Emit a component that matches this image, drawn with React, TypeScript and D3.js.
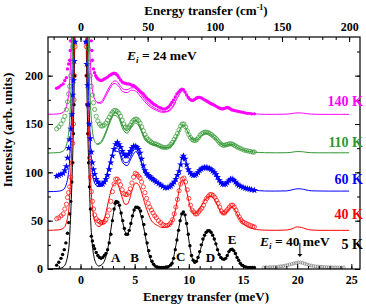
import React, { useEffect, useRef } from "react";
import * as d3 from "d3";

type P = [number, number];

const W = 366;
const H = 307;
const MARGIN = { top: 37, right: 6, bottom: 38, left: 48 };
const FONT = "Liberation Serif, Times New Roman, DejaVu Serif, serif";
const MEV_TO_CM = 8.0655;

const xTicksMeV = [0, 5, 10, 15, 20, 25];
const xTicksCm = [0, 50, 100, 150, 200];
const yTicks = [0, 50, 100, 150, 200];

// 5 K, Ei = 24 meV (black)
const t5Pts: P[] = [
  [-2.2, 4], [-2.0, 7], [-1.8, 11], [-1.65, 15], [-1.5, 20], [-1.35, 27], [-1.2, 37], [-1.1, 48],
  [-1.0, 57], [-0.9, 70], [-0.8, 90], [-0.72, 110], [-0.65, 140], [-0.6, 170], [-0.55, 200], [-0.5, 235],
  [0.5, 235], [0.55, 200], [0.6, 170], [0.68, 140], [0.75, 110], [0.83, 85], [0.92, 62], [1.0, 34],
  [1.1, 29], [1.2, 24], [1.3, 21], [1.45, 17], [1.6, 14], [1.75, 12], [1.9, 11], [2.05, 12], [2.2, 14],
  [2.35, 16], [2.5, 20], [2.65, 27], [2.8, 36], [2.95, 50], [3.1, 62], [3.2, 68], [3.3, 70], [3.45, 69],
  [3.6, 66], [3.75, 58], [3.9, 50], [4.05, 42], [4.2, 36], [4.35, 36], [4.5, 40], [4.65, 47], [4.8, 55],
  [4.95, 61], [5.1, 64], [5.25, 64], [5.4, 63], [5.55, 60], [5.7, 54], [5.85, 46], [6.0, 36], [6.15, 27],
  [6.3, 19], [6.45, 13], [6.6, 8], [6.75, 5], [6.9, 3], [7.1, 2], [7.3, 1.5], [7.5, 1.5], [7.7, 1.5],
  [7.9, 2], [8.1, 2.5], [8.3, 4], [8.45, 6], [8.6, 11], [8.75, 20], [8.9, 30], [9.05, 40], [9.2, 50],
  [9.35, 57], [9.5, 59], [9.65, 56], [9.8, 47], [9.95, 36], [10.1, 24], [10.25, 14], [10.4, 9], [10.55, 7],
  [10.7, 8], [10.85, 12], [11.0, 18], [11.15, 25], [11.3, 31], [11.45, 35], [11.6, 38], [11.75, 39.5],
  [11.9, 39.5], [12.05, 38], [12.2, 35], [12.35, 31], [12.5, 26], [12.65, 20], [12.8, 15], [12.95, 12],
  [13.1, 10.5], [13.25, 10], [13.4, 11], [13.55, 14], [13.7, 18], [13.85, 20], [14.0, 20.5], [14.15, 19],
  [14.3, 16], [14.45, 12], [14.6, 9], [14.75, 6], [14.9, 4], [15.05, 3], [15.25, 2], [15.45, 1.5],
  [15.65, 1.5], [15.85, 1.5], [16.05, 1.5],
];
const t5Fit: P[] = [
  [-3, 0], [-2.0, 0.5], [-1.6, 2], [-1.3, 8], [-1.15, 16], [-1.05, 25], [-0.95, 45], [-0.85, 72],
  [-0.75, 105], [-0.68, 135], [-0.6, 180], [-0.5, 260], [0, 900], [0.5, 260], [0.6, 180], [0.7, 130],
  [0.8, 95], [0.9, 60], [1.0, 38], [1.1, 24], [1.2, 15], [1.35, 8], [1.5, 4.5], [1.7, 3], [1.9, 4],
  [2.1, 6], [2.3, 11], [2.5, 20], [2.7, 33], [2.9, 48], [3.1, 61], [3.3, 68], [3.5, 67], [3.7, 59],
  [3.9, 48], [4.1, 39], [4.3, 36], [4.5, 40], [4.7, 50], [4.9, 59], [5.1, 63], [5.3, 63], [5.5, 58],
  [5.7, 50], [5.9, 39], [6.1, 27], [6.3, 16], [6.5, 9], [6.7, 4], [6.9, 2], [7.3, 1], [7.8, 1], [8.2, 3],
  [8.5, 8], [8.8, 24], [9.1, 44], [9.3, 55], [9.45, 58], [9.6, 56], [9.8, 46], [10.0, 30], [10.2, 16],
  [10.4, 9], [10.6, 7], [10.8, 10], [11.0, 17], [11.3, 29], [11.6, 37], [11.9, 39.5], [12.2, 35],
  [12.5, 26], [12.8, 15], [13.1, 10], [13.3, 10], [13.5, 13], [13.8, 19], [14.0, 20], [14.2, 18],
  [14.5, 11], [14.8, 5], [15.1, 2.5], [15.5, 1.5], [16.0, 1],
];
// 5 K, Ei = 40 meV (grey)
const t5Ei40Pts: P[] = [
  [16.9, 1.5], [17.1, 1.8], [17.3, 1.5], [17.5, 2], [17.7, 1.8], [17.9, 2.2], [18.1, 2], [18.3, 2.5],
  [18.5, 2.8], [18.7, 3], [18.9, 3.5], [19.1, 4], [19.3, 4.5], [19.5, 5.2], [19.7, 5.8], [19.9, 6.3],
  [20.1, 6.8], [20.3, 6.8], [20.5, 6.3], [20.7, 5.5], [20.9, 4.8], [21.1, 4], [21.3, 3.5], [21.5, 3],
  [21.7, 2.7], [21.9, 2.5], [22.1, 2.3], [22.3, 2.2], [22.5, 2], [22.7, 2], [22.9, 1.8], [23.1, 1.8],
  [23.3, 1.6], [23.5, 1.6], [23.7, 1.5], [23.9, 1.5], [24.1, 1.4], [24.3, 1.4],
];

// 40 K (red, offset 40)
const t40Pts: P[] = [
  [-2.2, 52], [-2.0, 53], [-1.8, 55], [-1.6, 57], [-1.45, 62], [-1.3, 67], [-1.2, 74], [-1.1, 79],
  [-1.0, 85], [-0.9, 95], [-0.8, 110], [-0.72, 130], [-0.65, 150], [-0.6, 175], [-0.55, 200], [-0.5, 230],
  [0.55, 230], [0.6, 200], [0.68, 170], [0.75, 140], [0.83, 115], [0.92, 95], [1.0, 80], [1.1, 70],
  [1.2, 62], [1.3, 56], [1.45, 52], [1.6, 50], [1.75, 49], [1.9, 48], [2.05, 48], [2.2, 49], [2.35, 51],
  [2.5, 55], [2.65, 61], [2.8, 70], [2.95, 80], [3.1, 88], [3.25, 93], [3.4, 93], [3.55, 91], [3.7, 87],
  [3.85, 82], [4.0, 78], [4.15, 77], [4.3, 77], [4.45, 79], [4.6, 83], [4.75, 89], [4.9, 95], [5.05, 99],
  [5.2, 98], [5.35, 96], [5.5, 94], [5.65, 90], [5.8, 85], [5.95, 79], [6.1, 73], [6.25, 68], [6.4, 64],
  [6.55, 61], [6.7, 58], [6.85, 55], [7.0, 53], [7.2, 50], [7.4, 48], [7.6, 46], [7.8, 45], [8.0, 45],
  [8.2, 46], [8.35, 48], [8.5, 51], [8.65, 57], [8.8, 64], [8.95, 72], [9.1, 81], [9.25, 88], [9.4, 93],
  [9.55, 94], [9.7, 90], [9.85, 82], [10.0, 73], [10.15, 66], [10.3, 61], [10.45, 59], [10.6, 57],
  [10.75, 57], [10.9, 59], [11.05, 61], [11.2, 63], [11.35, 66], [11.5, 70], [11.65, 73], [11.8, 75],
  [11.95, 77], [12.1, 77], [12.25, 76], [12.4, 74], [12.55, 71], [12.7, 68], [12.85, 64], [13.0, 60],
  [13.15, 58], [13.3, 58], [13.45, 60], [13.6, 62], [13.75, 64], [13.9, 66], [14.05, 66], [14.2, 64],
  [14.35, 61], [14.5, 57], [14.65, 54], [14.8, 51], [14.95, 49], [15.1, 48], [15.3, 47], [15.5, 46],
  [15.7, 45], [15.9, 44], [16.05, 43.5],
];
const t40Fit: P[] = [
  [-3, 40], [-2.0, 40.5], [-1.6, 42], [-1.3, 48], [-1.15, 56], [-1.05, 65], [-0.95, 85], [-0.85, 112],
  [-0.75, 145], [-0.68, 175], [-0.6, 220], [-0.5, 300], [0, 900], [0.5, 300], [0.6, 220], [0.7, 165],
  [0.8, 130], [0.9, 100], [1.0, 78], [1.1, 64], [1.2, 55], [1.35, 48], [1.5, 45], [1.7, 44], [1.9, 45],
  [2.1, 49], [2.3, 56], [2.5, 66], [2.7, 76], [2.9, 84], [3.1, 88], [3.3, 89], [3.5, 86], [3.7, 79],
  [3.9, 72], [4.1, 67], [4.3, 67], [4.5, 71], [4.7, 79], [4.9, 86], [5.1, 89], [5.3, 88], [5.5, 84],
  [5.7, 77], [5.9, 69], [6.1, 62], [6.3, 56], [6.5, 51], [6.8, 47], [7.1, 45], [7.5, 43], [7.8, 43],
  [8.1, 44], [8.4, 48], [8.7, 58], [9.0, 75], [9.2, 87], [9.4, 92], [9.6, 89], [9.8, 80], [10.0, 70],
  [10.2, 62], [10.4, 58], [10.6, 57], [10.8, 59], [11.1, 64], [11.4, 70], [11.7, 74], [12.0, 75],
  [12.3, 73], [12.6, 67], [12.9, 60], [13.1, 57], [13.3, 57], [13.5, 59], [13.8, 63], [14.0, 64],
  [14.2, 62], [14.5, 56], [14.8, 50], [15.1, 46], [15.5, 43], [16.0, 41.5], [16.5, 40.5], [17, 40.2],
  [18, 40], [19, 40.3], [19.5, 41.5], [20.0, 43.5], [20.4, 43], [20.8, 41.5], [21.3, 40.3], [22, 40],
  [23, 40], [24, 40], [24.8, 40],
];

// 60 K (blue, offset 80)
const t60Pts: P[] = [
  [-2.2, 96], [-2.0, 97], [-1.8, 98], [-1.6, 99], [-1.45, 102], [-1.3, 106], [-1.2, 115], [-1.1, 125],
  [-1.0, 134], [-0.9, 145], [-0.8, 160], [-0.72, 180], [-0.65, 195], [-0.58, 215], [-0.5, 235],
  [0.5, 235], [0.58, 212], [0.65, 190], [0.72, 170], [0.8, 150], [0.9, 135], [1.0, 121], [1.1, 110],
  [1.2, 103], [1.3, 98], [1.45, 93], [1.6, 90], [1.75, 88], [1.9, 87.5], [2.05, 88], [2.2, 90], [2.35, 93],
  [2.5, 97], [2.65, 103], [2.8, 110], [2.95, 117], [3.1, 124], [3.25, 129], [3.4, 131], [3.55, 129],
  [3.7, 126], [3.85, 122], [4.0, 119], [4.15, 117], [4.3, 117], [4.45, 119], [4.6, 122], [4.75, 125],
  [4.9, 127], [5.05, 127], [5.2, 126], [5.35, 124], [5.5, 120], [5.65, 114], [5.8, 107], [5.95, 102],
  [6.1, 99], [6.25, 97], [6.4, 95.5], [6.55, 94], [6.7, 93], [6.85, 91.5], [7.0, 90], [7.2, 88.5],
  [7.4, 87], [7.6, 85.5], [7.8, 84], [8.0, 84], [8.2, 85], [8.35, 86], [8.5, 88], [8.65, 90], [8.8, 93],
  [8.95, 97], [9.1, 101], [9.25, 108], [9.4, 115], [9.5, 117], [9.65, 114], [9.8, 108], [9.95, 103],
  [10.1, 100], [10.25, 98], [10.4, 97], [10.55, 97], [10.7, 98], [10.85, 100], [11.0, 102], [11.15, 103.5],
  [11.3, 104.5], [11.45, 105], [11.6, 105], [11.75, 104.5], [11.9, 104], [12.05, 103], [12.2, 101.5],
  [12.35, 100], [12.5, 98], [12.65, 95], [12.8, 92], [12.95, 89.5], [13.1, 88], [13.25, 87.5], [13.4, 88],
  [13.55, 89.5], [13.7, 91.5], [13.85, 93], [14.0, 93], [14.15, 92], [14.3, 90], [14.45, 88], [14.6, 86.5],
  [14.8, 85.5], [15.0, 84.5], [15.2, 83.5], [15.4, 83], [15.6, 82.5], [15.8, 82], [16.05, 81.5],
];
const t60Fit: P[] = [
  [-3, 80], [-2.0, 80.5], [-1.6, 82], [-1.3, 88], [-1.15, 96], [-1.05, 105], [-0.95, 125], [-0.85, 152],
  [-0.75, 185], [-0.68, 215], [-0.6, 260], [-0.5, 340], [0, 900], [0.5, 340], [0.6, 260], [0.7, 205],
  [0.8, 165], [0.9, 135], [1.0, 113], [1.1, 100], [1.2, 93], [1.35, 88], [1.5, 86], [1.7, 85.5],
  [1.9, 86.5], [2.1, 89], [2.3, 94], [2.5, 101], [2.7, 110], [2.9, 118], [3.1, 124], [3.3, 126],
  [3.5, 124], [3.7, 119], [3.9, 113], [4.1, 110], [4.3, 110], [4.5, 113], [4.7, 118], [4.9, 123],
  [5.1, 124], [5.3, 122], [5.5, 116], [5.7, 108], [5.9, 101], [6.1, 97], [6.4, 94], [6.7, 92],
  [7.0, 89.5], [7.3, 87], [7.6, 85], [7.9, 84], [8.2, 85], [8.5, 88], [8.8, 94], [9.1, 103], [9.3, 111],
  [9.45, 115], [9.6, 113], [9.8, 107], [10.0, 101], [10.2, 98], [10.4, 96.5], [10.6, 97], [10.9, 100],
  [11.2, 103], [11.5, 104.5], [11.8, 104.5], [12.1, 102.5], [12.4, 99], [12.7, 94], [13.0, 89.5],
  [13.3, 88], [13.6, 90], [13.9, 92.5], [14.1, 92.5], [14.4, 90], [14.7, 87], [15.0, 85], [15.5, 83],
  [16.0, 81.5], [16.5, 81], [17, 80.7], [18, 80.6], [19, 80.8], [19.5, 81.8], [20.0, 83], [20.4, 82.8],
  [20.8, 81.8], [21.3, 80.9], [22, 80.7], [23, 80.6], [24, 80.6], [24.8, 80.6],
];
const t60Fit2: P[] = [
  [1.5, 85.5], [1.9, 85.5], [2.3, 92.5], [2.7, 108], [3.1, 122], [3.5, 121.5], [3.9, 110], [4.3, 107],
  [4.7, 115], [5.1, 121.5], [5.5, 113.5], [5.9, 99.5], [6.4, 93], [7.0, 89], [7.6, 84.5], [8.2, 84.5],
  [8.8, 93.5],
];

// 110 K (green, offset 120)
const t110Pts: P[] = [
  [-2.2, 145], [-2.0, 147], [-1.8, 150], [-1.6, 154], [-1.45, 158], [-1.3, 165], [-1.2, 173], [-1.1, 181],
  [-1.0, 189], [-0.9, 200], [-0.8, 215], [-0.72, 230], [-0.65, 242],
  [0.65, 242], [0.72, 228], [0.8, 214], [0.9, 200], [1.0, 189], [1.1, 180], [1.2, 172], [1.3, 165],
  [1.45, 158], [1.6, 153], [1.75, 150], [1.9, 148], [2.05, 148], [2.2, 149], [2.35, 151], [2.5, 154],
  [2.65, 157], [2.8, 160], [2.95, 162], [3.1, 164], [3.25, 164], [3.4, 163], [3.55, 161], [3.7, 158],
  [3.85, 154], [4.0, 150], [4.15, 147], [4.3, 146], [4.45, 147], [4.6, 149], [4.75, 152], [4.9, 154],
  [5.05, 155], [5.2, 155], [5.35, 153.5], [5.5, 151], [5.65, 147], [5.8, 143], [5.95, 139], [6.1, 136],
  [6.25, 134], [6.4, 132.5], [6.55, 131], [6.7, 130], [6.85, 129.5], [7.0, 129], [7.2, 128], [7.4, 127],
  [7.6, 126], [7.8, 125.5], [8.0, 126], [8.2, 127], [8.35, 129], [8.5, 131], [8.65, 134], [8.8, 137],
  [8.95, 140], [9.1, 144], [9.25, 148], [9.4, 150], [9.55, 150], [9.7, 147], [9.85, 143], [10.0, 139],
  [10.15, 136], [10.3, 134], [10.45, 133], [10.6, 133], [10.75, 134], [10.9, 136], [11.05, 138.5],
  [11.2, 140], [11.35, 141], [11.5, 141.5], [11.65, 141.5], [11.8, 141], [11.95, 140], [12.1, 139],
  [12.25, 137.5], [12.4, 136], [12.55, 134.5], [12.7, 132.5], [12.85, 130.5], [13.0, 129], [13.15, 128],
  [13.3, 128], [13.45, 128.5], [13.6, 129], [13.75, 129.5], [13.9, 129.5], [14.05, 129], [14.2, 128],
  [14.35, 127], [14.5, 126], [14.7, 125], [14.9, 124], [15.1, 123], [15.3, 122.5], [15.5, 122],
  [15.7, 121.5], [15.9, 121], [16.05, 121],
];
const t110Fit: P[] = [
  [-3, 120], [-2.0, 120.5], [-1.6, 122], [-1.3, 128], [-1.15, 136], [-1.05, 145], [-0.95, 165],
  [-0.85, 192], [-0.75, 225], [-0.68, 255], [-0.6, 300], [0, 900], [0.6, 300], [0.7, 245], [0.8, 205],
  [0.9, 175], [1.0, 155], [1.1, 143], [1.2, 136], [1.35, 131], [1.5, 129.5], [1.7, 130], [1.9, 132],
  [2.1, 136], [2.3, 141], [2.5, 147], [2.7, 153], [2.9, 158], [3.1, 161], [3.3, 161.5], [3.5, 159],
  [3.7, 154], [3.9, 148], [4.1, 144], [4.3, 143], [4.5, 145], [4.7, 149], [4.9, 152.5], [5.1, 153.5],
  [5.3, 152], [5.5, 148], [5.7, 142], [5.9, 137], [6.1, 133.5], [6.4, 131], [6.7, 129.5], [7.0, 128.5],
  [7.3, 127], [7.6, 126], [7.9, 125.5], [8.2, 126.5], [8.5, 129.5], [8.8, 135], [9.1, 142], [9.3, 147],
  [9.45, 149], [9.6, 148], [9.8, 144], [10.0, 139], [10.2, 135.5], [10.4, 133.5], [10.6, 133],
  [10.9, 135], [11.2, 138.5], [11.5, 140.5], [11.8, 140.5], [12.1, 138.5], [12.4, 135.5], [12.7, 132],
  [13.0, 129], [13.3, 127.5], [13.6, 128.5], [13.9, 129], [14.2, 128], [14.5, 125.5], [14.8, 124],
  [15.2, 122.5], [15.6, 121.5], [16.0, 121], [16.5, 120.5], [17, 120.3], [18, 120.2], [19, 120.3],
  [19.5, 120.8], [20, 121.5], [20.4, 121.4], [20.8, 120.8], [21.3, 120.3], [22, 120.2], [23, 120.2],
  [24, 120.2], [24.8, 120.2],
];
const t110Fit2: P[] = [
  [1.5, 128.5], [1.9, 130.5], [2.3, 139], [2.7, 151], [3.1, 159], [3.5, 156.5], [3.9, 145], [4.3, 140.5],
  [4.7, 146.5], [5.1, 151], [5.5, 145.5], [5.9, 134.5], [6.4, 129.5], [7.0, 127.5], [7.6, 125],
  [8.2, 125.5], [8.8, 134],
];

// 140 K (magenta, offset 160)
const t140Pts: P[] = [
  [-2.2, 187], [-2.0, 188], [-1.8, 190], [-1.6, 191.5], [-1.45, 195], [-1.3, 198], [-1.2, 207],
  [-1.1, 212], [-1.0, 216], [-0.95, 226], [-0.92, 236],
  [1.0, 236], [1.05, 226], [1.1, 216], [1.2, 207], [1.3, 203], [1.4, 200], [1.5, 198], [1.6, 196.5],
  [1.75, 195.5], [1.9, 195], [2.05, 195.5], [2.2, 196.5], [2.35, 197.5], [2.5, 198.5], [2.65, 200],
  [2.8, 201], [2.95, 202], [3.1, 202.5], [3.25, 202], [3.4, 200.5], [3.55, 198], [3.7, 195.5],
  [3.85, 193.5], [4.0, 192.5], [4.15, 192], [4.3, 191.5], [4.45, 191.5], [4.6, 191], [4.75, 190],
  [4.9, 189.5], [5.05, 188.5], [5.2, 187], [5.35, 185.5], [5.5, 184], [5.65, 182.5], [5.8, 181],
  [5.95, 179], [6.1, 177], [6.25, 175.5], [6.4, 174], [6.55, 172.5], [6.7, 171], [6.85, 170], [7.0, 169],
  [7.2, 167.5], [7.4, 166.5], [7.6, 165.5], [7.8, 165.5], [8.0, 166.5], [8.15, 168], [8.3, 170],
  [8.45, 172.5], [8.6, 175], [8.75, 178], [8.9, 181], [9.05, 183], [9.2, 185], [9.35, 186], [9.5, 185.5],
  [9.65, 183], [9.8, 180], [9.95, 177.5], [10.1, 175.5], [10.25, 174.5], [10.4, 174.5], [10.55, 175.5],
  [10.7, 177], [10.85, 177.5], [11.0, 177.5], [11.15, 177], [11.3, 176], [11.45, 175], [11.6, 174],
  [11.75, 173], [11.9, 172], [12.05, 171], [12.2, 170.5], [12.35, 169.5], [12.5, 168.5], [12.65, 167.5],
  [12.8, 166.5], [12.95, 166], [13.1, 165.5], [13.25, 166], [13.4, 166.5], [13.55, 167], [13.7, 166.5],
  [13.85, 165.5], [14.0, 164.5], [14.2, 164], [14.4, 163.5], [14.6, 163], [14.8, 162.5], [15.0, 162],
  [15.2, 161.5], [15.4, 161], [15.6, 161], [15.8, 160.5], [16.05, 160.5],
];
const t140Fit: P[] = [
  [-3, 160], [-2.0, 160.5], [-1.6, 162], [-1.3, 168], [-1.15, 176], [-1.05, 185], [-0.95, 205],
  [-0.85, 232], [-0.75, 265], [0, 900], [0.75, 265], [0.85, 228], [0.95, 205], [1.05, 190], [1.15, 182],
  [1.3, 176], [1.5, 173], [1.7, 172], [1.9, 173], [2.1, 176], [2.3, 180.5], [2.5, 185], [2.7, 189],
  [2.9, 192.5], [3.1, 194.5], [3.3, 194.5], [3.5, 192], [3.7, 189], [3.9, 186.5], [4.1, 185.5],
  [4.3, 185.5], [4.5, 186.5], [4.7, 187.5], [4.9, 187.5], [5.1, 186.5], [5.3, 184.5], [5.5, 182],
  [5.7, 179], [5.9, 176], [6.1, 173.5], [6.4, 170], [6.7, 167.5], [7.0, 165.5], [7.3, 164], [7.6, 163],
  [7.9, 163], [8.2, 164.5], [8.5, 168], [8.8, 174], [9.1, 180], [9.3, 183.5], [9.45, 184.5], [9.6, 183.5],
  [9.8, 180], [10.0, 177], [10.2, 175], [10.4, 174.5], [10.7, 175.5], [11.0, 176.5], [11.3, 175.5],
  [11.6, 174], [11.9, 172], [12.2, 170], [12.5, 168.5], [12.8, 167], [13.1, 166], [13.4, 166], [13.7, 166],
  [14.0, 165], [14.4, 163.5], [14.8, 162.5], [15.2, 161.5], [15.6, 161], [16.0, 160.5], [16.5, 160.2],
  [17, 160], [18, 160], [19, 160.2], [19.5, 160.8], [20, 161.5], [20.4, 161.4], [20.8, 160.8],
  [21.3, 160.2], [22, 160], [23, 160], [24, 160], [24.8, 160],
];
const t140Fit2: P[] = [
  [1.5, 172], [1.9, 171.5], [2.3, 178], [2.7, 186.5], [3.1, 192], [3.5, 189.5], [3.9, 183.5], [4.3, 182.5],
  [4.7, 185], [5.1, 184], [5.5, 179], [5.9, 173.5], [6.4, 168], [7.0, 164], [7.6, 162], [8.2, 163.5],
  [8.8, 173],
];

type Marker = "dot" | "ring" | "star";
const SERIES: { label: string; color: string; marker: Marker; pts: P[]; fits: P[][]; labelBase: number }[] = [
  { label: "5 K", color: "#000000", marker: "dot", pts: t5Pts, fits: [t5Fit], labelBase: 249 },
  { label: "40 K", color: "#ff0000", marker: "ring", pts: t40Pts, fits: [t40Fit], labelBase: 219 },
  { label: "60 K", color: "#0000ff", marker: "star", pts: t60Pts, fits: [t60Fit, t60Fit2], labelBase: 184 },
  { label: "110 K", color: "#2f962f", marker: "ring", pts: t110Pts, fits: [t110Fit, t110Fit2], labelBase: 147 },
  { label: "140 K", color: "#ff00ff", marker: "dot", pts: t140Pts, fits: [t140Fit, t140Fit2], labelBase: 106 },
];

const PEAKS: { name: string; e: number; i: number }[] = [
  { name: "A", e: 3.25, i: 7 },
  { name: "B", e: 5.0, i: 7 },
  { name: "C", e: 9.25, i: 8 },
  { name: "D", e: 12.0, i: 7 },
  { name: "E", e: 14.0, i: 26 },
];

export default function App() {
  const axesRef = useRef<SVGGElement>(null);
  const x0 = MARGIN.left;
  const x1 = W - MARGIN.right;
  const y0 = H - MARGIN.bottom;
  const y1 = MARGIN.top;

  const x = d3.scaleLinear().domain([-3, 25.8]).range([x0, x1]);
  const xCm = d3.scaleLinear().domain([-3 * MEV_TO_CM, 25.8 * MEV_TO_CM]).range([x0, x1]);
  const y = d3.scaleLinear().domain([0, 240]).range([y0, y1]);

  const line = d3
    .line<P>()
    .x((d) => x(d[0]))
    .y((d) => y(d[1]))
    .curve(d3.curveMonotoneX);

  useEffect(() => {
    const g = d3.select(axesRef.current);
    g.selectAll("*").remove();
    const style = (sel: any) => {
      sel.select(".domain").remove();
      sel.selectAll("line").attr("stroke", "#000").attr("stroke-width", 1);
      sel.attr("font-family", null).attr("font-size", null);
      sel
        .selectAll("text")
        .attr("fill", "#000")
        .style("font-family", FONT)
        .style("font-size", "12px")
        .style("font-weight", "bold");
    };
    const none = () => "";

    g.append("g").attr("transform", `translate(0,${y0})`)
      .call(d3.axisBottom(x).tickValues(d3.range(-2, 26)).tickSize(-3).tickFormat(none)).call(style);
    g.append("g").attr("transform", `translate(0,${y0})`)
      .call(d3.axisBottom(x).tickValues(xTicksMeV).tickSize(-5).tickPadding(6).tickFormat(d3.format("d"))).call(style);

    g.append("g").attr("transform", `translate(0,${y1})`)
      .call(d3.axisTop(xCm).tickValues(d3.range(-20, 201, 10)).tickSize(-3).tickFormat(none)).call(style);
    g.append("g").attr("transform", `translate(0,${y1})`)
      .call(d3.axisTop(xCm).tickValues(xTicksCm).tickSize(-5).tickPadding(6).tickFormat(d3.format("d"))).call(style);

    g.append("g").attr("transform", `translate(${x0},0)`)
      .call(d3.axisLeft(y).tickValues(d3.range(0, 241, 25)).tickSize(-3).tickFormat(none)).call(style);
    g.append("g").attr("transform", `translate(${x0},0)`)
      .call(d3.axisLeft(y).tickValues(yTicks).tickSize(-5).tickPadding(5).tickFormat(d3.format("d"))).call(style);

    g.append("g").attr("transform", `translate(${x1},0)`)
      .call(d3.axisRight(y).tickValues(d3.range(0, 241, 25)).tickSize(-3).tickFormat(none)).call(style);
    g.append("g").attr("transform", `translate(${x1},0)`)
      .call(d3.axisRight(y).tickValues(yTicks).tickSize(-5).tickFormat(none)).call(style);
  }, []);

  const star = d3.symbol().type(d3.symbolStar).size(16)();

  const drawMarker = (m: Marker, color: string, d: P, k: number) => {
    const cx = x(d[0]);
    const cy = y(d[1]);
    if (m === "dot") return <circle key={k} cx={cx} cy={cy} r={1.7} fill={color} />;
    if (m === "ring")
      return <circle key={k} cx={cx} cy={cy} r={2.1} fill="none" stroke={color} strokeWidth={0.7} />;
    return <path key={k} d={star || ""} transform={`translate(${cx},${cy})`} fill={color} />;
  };

  const arrowX = x(20.25);
  const txt = { fontFamily: FONT, fontWeight: "bold" as const };

  return (
    <svg width={W} height={H} style={{ position: "absolute", left: 0, top: 0, background: "#fff" }}>
      <defs>
        <clipPath id="plot">
          <rect x={x0} y={y1} width={x1 - x0} height={y0 - y1} />
        </clipPath>
      </defs>
      <g clipPath="url(#plot)">
        {SERIES.map((s, i) => (
          <g key={i}>
            {s.pts.map((d, k) => drawMarker(s.marker, s.color, d, k))}
            {s.fits.map((f, k) => (
              <path key={`f${k}`} d={line(f) || ""} fill="none" stroke={s.color} strokeWidth={1} />
            ))}
          </g>
        ))}
        {t5Ei40Pts.map((d, k) => (
          <circle key={k} cx={x(d[0])} cy={y(d[1])} r={1.5} fill="none" stroke="#808080" strokeWidth={0.7} />
        ))}
      </g>
      <rect x={x0} y={y1} width={x1 - x0} height={y0 - y1} fill="none" stroke="#000" strokeWidth={1.2} />
      <g ref={axesRef} />

      <g style={{ ...txt, fontSize: 13 }} fill="#000">
        <text x={206} y={15} textAnchor="middle">
          Energy transfer (cm<tspan style={{ fontSize: 8 }} dy={-5}>-1</tspan><tspan dy={5}>)</tspan>
        </text>
        <text x={206} y={301} textAnchor="middle">
          Energy transfer (meV)
        </text>
        <text transform="translate(12,130) rotate(-90)" textAnchor="middle">
          Intensity (arb. units)
        </text>
        <text x={127} y={60} style={{ fontSize: 13.5 }}>
          <tspan style={{ fontStyle: "italic" }}>E</tspan>
          <tspan style={{ fontStyle: "italic", fontSize: 9 }} dy={3}>i</tspan>
          <tspan dy={-3}> = 24 meV</tspan>
        </text>
        <text x={260} y={246} style={{ fontSize: 13.5 }}>
          <tspan style={{ fontStyle: "italic" }}>E</tspan>
          <tspan style={{ fontStyle: "italic", fontSize: 9 }} dy={3}>i</tspan>
          <tspan dy={-3}> = 40 meV</tspan>
        </text>
        {SERIES.map((s, i) => (
          <text key={i} x={363} y={s.labelBase} style={{ fontSize: 14 }} textAnchor="end" fill={s.color}>
            {s.label}
          </text>
        ))}
        {PEAKS.map((p) => (
          <text key={p.name} x={x(p.e)} y={y(p.i)} textAnchor="middle">
            {p.name}
          </text>
        ))}
      </g>
      <line x1={arrowX} x2={arrowX} y1={y(27)} y2={y(15)} stroke="#000" strokeWidth={1} />
      <path
        d={`M${arrowX - 2.5},${y(15.5)} L${arrowX + 2.5},${y(15.5)} L${arrowX},${y(12.5)} Z`}
        fill="#000"
      />
    </svg>
  );
}
